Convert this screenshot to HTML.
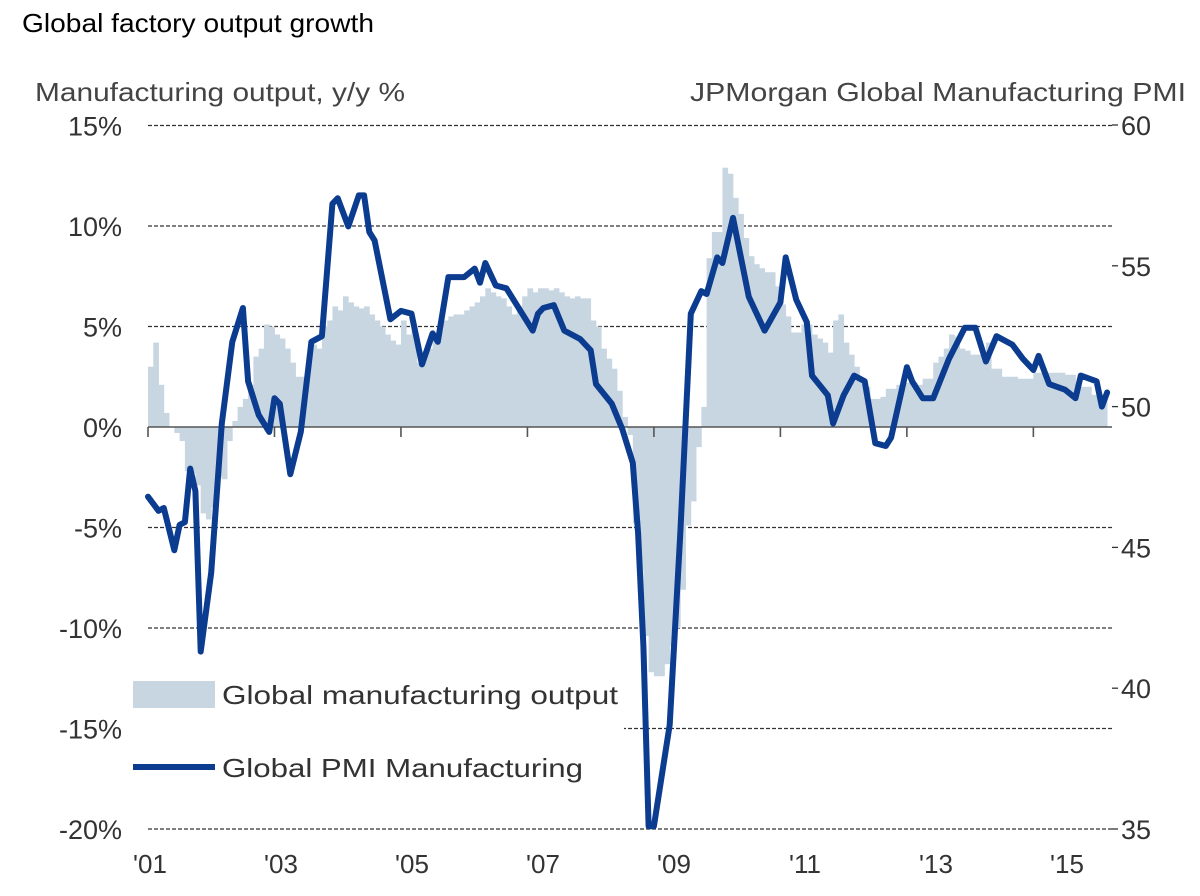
<!DOCTYPE html>
<html><head><meta charset="utf-8"><style>
html,body{margin:0;padding:0;background:#fff;}
svg{display:block;font-family:"Liberation Sans",sans-serif;}
</style></head><body>
<svg id="chart" width="1200" height="896" viewBox="0 0 1200 896" xmlns="http://www.w3.org/2000/svg">
<text x="22" y="32" font-size="26" fill="#000" textLength="352" lengthAdjust="spacingAndGlyphs">Global factory output growth</text>
<text x="35" y="101" font-size="26" fill="#444" textLength="370" lengthAdjust="spacingAndGlyphs">Manufacturing output, y/y  %</text>
<text x="690" y="101" font-size="26" fill="#444" textLength="496" lengthAdjust="spacingAndGlyphs">JPMorgan Global Manufacturing PMI</text>
<g id="grid"></g>
<g id="bars"></g>
<g id="axes"></g>
<g id="lines"></g>
<g>
<rect x="128" y="672" width="496" height="112" fill="#fff"/>
<rect x="133" y="681" width="82" height="27" fill="#c8d6e2"/>
<text x="222" y="704" font-size="26" fill="#333" textLength="396" lengthAdjust="spacingAndGlyphs">Global manufacturing output</text>
<line x1="133" y1="767" x2="215" y2="767" stroke="#0b3c8f" stroke-width="6"/>
<text x="222" y="777" font-size="26" fill="#333" textLength="361" lengthAdjust="spacingAndGlyphs">Global PMI Manufacturing</text>
</g>
</svg>
<script>
const leftTicks=[15,10,5,0,-5,-10,-15,-20];
const rightTicks=[60,55,50,45,40,35];
const yearLabels=["'01","'03","'05","'07","'09","'11","'13","'15"];
const outputValues=[3.0,4.2,2.1,0.7,0.0,-0.3,-0.7,-2.2,-2.3,-2.9,-4.3,-4.6,-4.0,-2.5,-2.6,-0.7,0.3,1.0,1.4,2.1,3.5,3.9,5.1,5.0,4.6,4.4,3.9,3.2,2.5,2.5,3.0,4.1,3.9,5.0,5.3,6.0,5.8,6.5,6.2,6.0,5.9,6.0,5.6,5.3,5.0,4.6,4.3,4.1,5.3,4.6,5.0,3.2,3.5,3.9,4.4,4.8,5.3,5.5,5.6,5.6,5.8,6.0,6.2,6.5,6.9,6.7,6.5,6.4,6.0,5.6,6.0,6.5,6.9,6.7,6.9,6.9,6.8,6.9,6.7,6.5,6.4,6.5,6.4,6.4,5.3,5.0,3.9,3.4,2.9,1.8,0.5,-0.4,-4.8,-7.1,-10.4,-12.2,-12.4,-12.4,-11.8,-10.9,-10.0,-8.1,-4.9,-3.7,-1.0,1.0,8.4,9.7,9.7,12.9,12.6,11.4,10.6,9.4,8.5,8.1,7.9,7.7,7.7,7.0,6.1,5.5,4.7,4.7,5.1,5.1,4.6,4.4,4.2,3.7,5.3,5.6,4.2,3.6,3.0,2.3,2.0,1.4,1.4,1.5,1.9,1.9,2.1,2.2,2.2,2.2,2.1,2.4,2.4,3.2,3.5,3.9,4.6,4.5,3.9,3.8,3.6,3.6,3.6,4.2,2.9,2.9,2.5,2.5,2.5,2.4,2.4,2.4,2.7,2.7,2.7,2.7,2.7,2.7,2.6,2.6,2.0,2.0,2.0,1.6,1.6,1.6];
const pmiMonths=[0,2,3,5,6,7,8,9,10,12,14,16,18,19,21,23,24,25,27,29,31,33,35,36,38,40,41,42,43,46,48,50,52,54,55,57,60,62,63,64,66,68,71,73,74,75,77,79,82,84,85,88,90,92,93,94,95,96,99,101,103,105,106,108,109,111,114,117,120,121,123,125,126,129,130,132,134,136,138,140,141,144,145,147,149,152,155,157,159,161,164,166,168,169,171,174,176,177,180,181,182];
const pmiValues=[46.8,46.3,46.4,44.9,45.8,45.9,47.8,47.0,41.3,44.1,49.4,52.3,53.5,50.9,49.7,49.1,50.3,50.1,47.6,49.1,52.3,52.5,57.2,57.4,56.4,57.5,57.5,56.2,55.9,53.1,53.4,53.3,51.5,52.6,52.3,54.6,54.6,54.9,54.4,55.1,54.3,54.2,53.3,52.7,53.3,53.5,53.6,52.7,52.4,52.0,50.8,50.1,49.2,48.0,45.5,41.5,35.1,35.1,38.7,45.5,53.3,54.1,54.0,55.3,55.1,56.7,53.9,52.7,53.7,55.3,53.8,53.0,51.1,50.4,49.4,50.4,51.1,50.9,48.7,48.6,48.9,51.4,50.9,50.3,50.3,51.7,52.8,52.8,51.6,52.5,52.2,51.7,51.3,51.8,50.8,50.6,50.3,51.1,50.9,50.0,50.5];

const NS="http://www.w3.org/2000/svg";
const X0=148, PXM=5.27;
const xScale=m=>X0+m*PXM;
const yLeft=v=>427-v*20.1;
const yRight=v=>125+(60-v)*28.16;
function mk(tag,attrs,parent){const e=document.createElementNS(NS,tag);for(const k in attrs)e.setAttribute(k,attrs[k]);parent.appendChild(e);return e;}
const grid=document.getElementById('grid'),bars=document.getElementById('bars'),axes=document.getElementById('axes'),lines=document.getElementById('lines');

leftTicks.forEach(t=>{
  const y=yLeft(t);
  if(t!==0){
    const g=mk('line',{x1:148,x2:1112,y1:y,y2:y,stroke:'#333','stroke-width':1.3,'stroke-dasharray':'4 2'},grid);
    
    
  }
  const tx=mk('text',{x:122,y:y+10,'font-size':27,fill:'#333','text-anchor':'end'},axes);
  tx.textContent=t+'%';
  
  
});
rightTicks.forEach(t=>{
  const y=yRight(t);
  const tk=mk('line',{x1:1112,x2:1118,y1:y,y2:y,stroke:'#333','stroke-width':1.3},axes);
  
  
  const tx=mk('text',{x:1121,y:y+10,'font-size':27,fill:'#333'},axes);
  tx.textContent=t;
  
  
});

outputValues.forEach((v,i)=>{
  const x=xScale(i), y0=yLeft(0), y1=yLeft(v);
  const r=mk('rect',{x:x,y:Math.min(y0,y1),width:PXM+0.4,height:Math.abs(y1-y0),fill:'#c8d6e2'},bars);
  
  
});

const zl=mk('line',{x1:148,x2:1112,y1:yLeft(0),y2:yLeft(0),stroke:'#555','stroke-width':1.6},axes);


yearLabels.forEach((lab,i)=>{
  const x=xScale(i*24);
  const tk=mk('line',{x1:x,x2:x,y1:427,y2:437,stroke:'#555','stroke-width':1.6},axes);
  
  
  const tx=mk('text',{x:150+i*131,y:873,'font-size':26,fill:'#333','text-anchor':'middle'},axes);
  tx.textContent=lab;
  
  
});

const d=pmiMonths.map((m,i)=>(i?'L':'M')+xScale(m).toFixed(1)+' '+yRight(pmiValues[i]).toFixed(1)).join(' ');
const p=mk('path',{d:d,fill:'none',stroke:'#0b3c8f','stroke-width':6,'stroke-linejoin':'round','stroke-linecap':'round'},lines);


</script>
</body></html>
